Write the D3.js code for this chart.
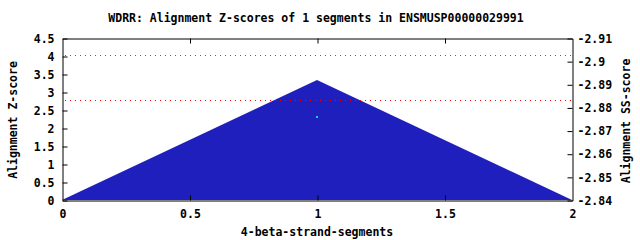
<!DOCTYPE html>
<html>
<head>
<meta charset="utf-8">
<script src="https://cdn.jsdelivr.net/npm/d3@7"></script>
<style>
  body { margin: 0; background: #fff; }
  text { font-family: "DejaVu Sans Mono", monospace; font-weight: bold; font-size: 11.5px; fill: #000; }
</style>
</head>
<body>
<div id="chart"></div>
<script>
// data
const segX = [0, 1, 2]
const zScores = [0, 3.33, 0]
const xTicks = [0, 0.5, 1, 1.5, 2]
const yTicks = [0, 0.5, 1, 1.5, 2, 2.5, 3, 3.5, 4, 4.5]
const y2Ticks = [-2.84, -2.85, -2.86, -2.87, -2.88, -2.89, -2.9, -2.91]
const greenLevel = 4.04
const redLevel = 2.78
const ssPoint = [[1, 2.31]]

const W = 640, H = 240
const padL = 62, padR = 572, padT = 38, padB = 200

let svg = d3.select('#chart').append('svg:svg')
  .attr('width', W).attr('height', H)

let x = d3.scaleLinear().domain([0, 2]).range([padL, padR])
let y = d3.scaleLinear().domain([0, 4.5]).range([padB, padT])
let y2 = d3.scaleLinear().domain([-2.84, -2.91]).range([padB, padT])

// filled area
let area = d3.area()
  .x((d, i) => x(segX[i]))
  .y0(y(0))
  .y1(d => y(d))
svg.append('path')
  .datum(zScores)
  .attr('fill', '#1f1fbd')
  .attr('d', area)

// dotted reference lines
let refLine = (level, color) => {
  let yy = Math.round(y(level)) + 0.5
  svg.append('line')
    .attr('x1', padL).attr('x2', padR)
    .attr('y1', yy).attr('y2', yy)
    .attr('stroke', color).attr('stroke-width', 1)
    .attr('stroke-dasharray', '1,4')
    .attr('stroke-dashoffset', -3)
}
refLine(greenLevel, '#00a000')
refLine(redLevel, '#ff0000')

// the single point
svg.selectAll('rect.pt')
  .data(ssPoint)
  .enter().append('rect')
  .attr('class', 'pt')
  .attr('x', d => Math.round(x(d[0])) - 1)
  .attr('y', d => Math.round(y(d[1])) - 1)
  .attr('width', 2).attr('height', 2)
  .attr('fill', '#00e0e0')

// axes (ticks inward)
let xAxis = svg.append('g')
  .attr('transform', `translate(0.5,${padB + 0.5})`)
  .call(d3.axisBottom(x).tickValues(xTicks).tickSizeInner(-5).tickSizeOuter(0).tickPadding(9)
    .tickFormat(d3.format('')))
let xTop = svg.append('g')
  .attr('transform', `translate(0.5,${padT + 0.5})`)
  .call(d3.axisTop(x).tickValues(xTicks).tickSizeInner(-5).tickSizeOuter(0).tickFormat(''))
let yAxis = svg.append('g')
  .attr('transform', `translate(${padL + 0.5},0.5)`)
  .call(d3.axisLeft(y).tickValues(yTicks).tickSizeInner(-5).tickSizeOuter(0).tickPadding(8)
    .tickFormat(d3.format('')))
let y2Axis = svg.append('g')
  .attr('transform', `translate(${padR + 0.5},0.5)`)
  .call(d3.axisRight(y2).tickValues(y2Ticks).tickSizeInner(-5).tickSizeOuter(0).tickPadding(5)
    .tickFormat(d => String(d)))

svg.selectAll('.domain').attr('stroke', '#000')
svg.selectAll('.tick line').attr('stroke', '#000')
svg.selectAll('.tick text')
  .attr('font-family', '"DejaVu Sans Mono", monospace')
  .attr('font-size', 11.5)
  .attr('font-weight', 'bold')

xTop.selectAll('.tick').filter(d => d === 0 || d === 2).remove()
xAxis.selectAll('.tick line').filter(d => d === 0 || d === 2).remove()

// titles
svg.append('text')
  .attr('x', 316).attr('y', 22)
  .attr('text-anchor', 'middle')
  .text('WDRR: Alignment Z-scores of 1 segments in ENSMUSP00000029991')
svg.append('text')
  .attr('x', 317).attr('y', 236)
  .attr('text-anchor', 'middle')
  .text('4-beta-strand-segments')
svg.append('text')
  .attr('transform', 'translate(17,120) rotate(-90)')
  .attr('text-anchor', 'middle')
  .text('Alignment Z-score')
svg.append('text')
  .attr('transform', 'translate(630,121) rotate(-90)')
  .attr('text-anchor', 'middle')
  .text('Alignment SS-score')
</script>
</body>
</html>
